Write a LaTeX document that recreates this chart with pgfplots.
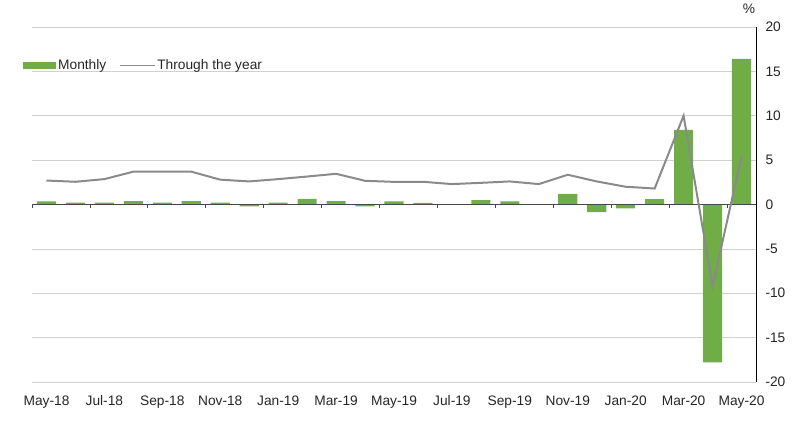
\documentclass[border=0pt]{standalone}
\usepackage{pgfplots}
\pgfplotsset{compat=1.18}
\usepackage{pgfplotstable}
\usepackage{fontspec}
\setmainfont{Liberation Sans}
\definecolor{barg}{RGB}{112,173,71}
\definecolor{lineg}{RGB}{138,138,138}
\definecolor{txt}{RGB}{38,38,38}
\definecolor{gridg}{RGB}{208,208,208}

% x = month centre (May-18 = 0.5), m = monthly %, y = through the year %
\pgfplotstableread{
x    m      y
0.5  0.34   2.70
1.5  0.20   2.56
2.5  0.20   2.86
3.5  0.38   3.70
4.5  0.20   3.70
5.5  0.38   3.70
6.5  0.20   2.80
7.5  -0.20  2.60
8.5  0.20   2.86
9.5  0.64   3.15
10.5 0.38   3.46
11.5 -0.20  2.67
12.5 0.34   2.55
13.5 0.19   2.56
14.5 0.00   2.30
15.5 0.50   2.44
16.5 0.34   2.60
17.5 0.00   2.30
18.5 1.20   3.35
19.5 -0.86  2.60
20.5 -0.45  2.00
21.5 0.60   1.80
22.5 8.40   10.00
23.5 -17.80 -9.20
24.5 16.40  5.40
}\cpidata

\begin{document}
\begin{tikzpicture}
\tikzset{lbl/.style={font=\fontsize{13.8}{16}\selectfont, text=txt}}
\pgfplotsset{
  base/.style={
    scale only axis, width=724bp, height=355bp,
    xmin=0, xmax=25, ymin=-20, ymax=20,
  },
}
\begin{axis}[base, name=main,
    axis x line*=bottom, axis y line*=right,
    x axis line style={draw=none},
    y axis line style={draw=black, line width=0.8bp},
    xtick={0.5,2.5,...,24.5},
    xticklabels={May-18,Jul-18,Sep-18,Nov-18,Jan-19,Mar-19,May-19,Jul-19,Sep-19,Nov-19,Jan-20,Mar-20,May-20},
    ytick={-20,-15,...,20},
    major tick length=0pt,
    ymajorgrids, grid style={gridg, line width=0.7bp},
    tick label style={lbl},
    /pgf/number format/assume math mode=true,
    yticklabel style={anchor=west, xshift=6bp},
    xticklabel style={yshift=-10bp},
    legend style={draw=none, fill=none, legend columns=-1,
      at={(axis description cs:0,0.891)}, anchor=west, xshift=-12bp,
      font=\fontsize{13.8}{16}\selectfont, text=txt,
      /tikz/every even column/.append style={column sep=11bp}},
  ]
  \addplot[ybar, bar width=0.66, fill=barg, draw=none,
    legend image code/.code={\fill[barg] (0bp,-3.5bp) rectangle (33bp,3.5bp);}]
    table[x=x, y=m] {\cpidata};
  \addlegendentry{Monthly}
  \addlegendimage{legend image code/.code={\draw[lineg, line width=1bp] (0bp,0bp) -- (35bp,0bp);}}
  \addlegendentry{Through the year}
\end{axis}
\begin{axis}[base,
    axis x line=middle, axis y line=none,
    x axis line style={-, draw=txt!85, line width=1bp},
    xtick={0,2,...,24}, xticklabels={},
    tick align=outside, major tick length=4bp,
    major tick style={draw=txt!85, line width=0.8bp},
  ]
  \addplot[lineg, line width=2bp, mark=none] table[x=x, y=y] {\cpidata};
\end{axis}
\node[lbl, xshift=-7bp, yshift=18bp] at (main.north east) {\%};
\pgfresetboundingbox
\path ([xshift=-32bp, yshift=-41bp]main.south west) rectangle ([xshift=40bp, yshift=27bp]main.north east);
\end{tikzpicture}
\end{document}
